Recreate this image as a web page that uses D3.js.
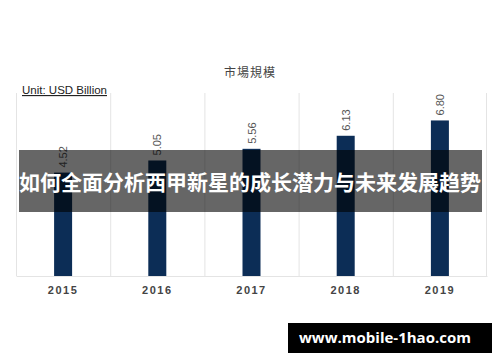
<!DOCTYPE html>
<html>
<head>
<meta charset="utf-8">
<script src="https://cdn.jsdelivr.net/npm/d3@7"></script>
<style>
  html, body { margin: 0; padding: 0; background: #fff; }
  svg { display: block; }
</style>
</head>
<body>
<div class="chart"></div>
<script>
var years = ["2015", "2016", "2017", "2018", "2019"];
var values = [4.52, 5.05, 5.56, 6.13, 6.80];
var valueLabels = ["4.52", "5.05", "5.56", "6.13", "6.80"];
var title = "市場規模";
var unitText = "Unit: USD Billion";
var bannerText = "如何全面分析西甲新星的成长潜力与未来发展趋势";
var siteText = "www.mobile-1hao.com";

var width = 500, height = 362;
var margin = {top: 93, left: 16, right: 13, bottom: 86};

var svg = d3.select(".chart")
    .append("svg")
    .attr("width", width)
    .attr("height", height);

var x = d3.scaleBand()
    .domain(years)
    .range([margin.left, width - margin.right])
    .paddingInner(0)
    .paddingOuter(0);

var y = d3.scaleLinear()
    .domain([0, 8])
    .range([height - margin.bottom, margin.top]);

var barW = 18;

// column separators
var grid = svg.append("g").attr("class", "grid");
grid.selectAll("line")
    .data(years.concat(["end"]))
    .enter().append("line")
    .attr("x1", function(d, i) { return i < years.length ? x(d) + 0.5 : x.range()[1] - 0.5; })
    .attr("x2", function(d, i) { return i < years.length ? x(d) + 0.5 : x.range()[1] - 0.5; })
    .attr("y1", y(8))
    .attr("y2", y(0))
    .attr("stroke", "#e4e4e4")
    .attr("stroke-width", 1);

// x axis
var xAxis = svg.append("g")
    .attr("transform", "translate(0," + y(0) + ")")
    .call(d3.axisBottom(x).tickSize(0).tickPadding(10));
xAxis.select(".domain").attr("stroke", "#e4e4e4");
xAxis.selectAll("text")
    .attr("fill", "#444")
    .attr("font-family", "Liberation Sans, Arial, sans-serif")
    .attr("font-size", "11px")
    .attr("font-weight", "bold")
    .attr("letter-spacing", "1.5px");

// bars
svg.append("g").selectAll("rect")
    .data(values)
    .enter().append("rect")
    .attr("x", function(d, i) { return x(years[i]) + x.bandwidth() / 2 - barW / 2; })
    .attr("y", function(d) { return y(d); })
    .attr("width", barW)
    .attr("height", function(d) { return y(0) - y(d); })
    .attr("fill", "#0c2d56");

// value labels (rotated)
svg.append("g").selectAll("text")
    .data(values)
    .enter().append("text")
    .attr("transform", function(d, i) {
        var cx = x(years[i]) + x.bandwidth() / 2 + 4;
        return "translate(" + cx + "," + (y(d) - 5) + ") rotate(-90)";
    })
    .attr("fill", "#555")
    .attr("font-family", "Liberation Sans, Arial, sans-serif")
    .attr("font-size", "11px")
    .text(function(d, i) { return valueLabels[i]; });

// title
svg.append("text")
    .attr("x", 250)
    .attr("y", 77)
    .attr("text-anchor", "middle")
    .attr("fill", "#444")
    .attr("font-family", "Noto Sans CJK TC, sans-serif")
    .attr("font-size", "12px")
    .attr("letter-spacing", "1px")
    .text(title);

// unit
svg.append("text")
    .attr("x", 22)
    .attr("y", 94)
    .attr("fill", "#222")
    .attr("font-family", "Liberation Sans, Arial, sans-serif")
    .attr("font-size", "11.5px")
    .attr("text-decoration", "underline")
    .text(unitText);

// banner overlay
svg.append("rect")
    .attr("x", 19)
    .attr("y", 150)
    .attr("width", 463)
    .attr("height", 62)
    .attr("fill", "rgba(0,0,0,0.6)");

svg.append("text")
    .attr("x", 250)
    .attr("y", 190)
    .attr("text-anchor", "middle")
    .attr("fill", "#fff")
    .attr("font-family", "Noto Sans CJK SC, sans-serif")
    .attr("font-size", "21px")
    .attr("font-weight", "bold")
    .text(bannerText);

// site watermark
svg.append("rect")
    .attr("x", 288)
    .attr("y", 323)
    .attr("width", 204)
    .attr("height", 30)
    .attr("fill", "#000");

svg.append("text")
    .attr("x", 385)
    .attr("y", 343)
    .attr("text-anchor", "middle")
    .attr("fill", "#fff")
    .attr("font-family", "Open Sans, sans-serif")
    .attr("font-size", "15px")
    .attr("font-weight", "bold")
    .text(siteText);
</script>
</body>
</html>
